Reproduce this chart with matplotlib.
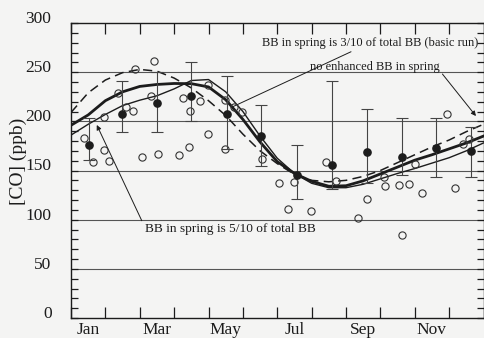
import numpy as np
import matplotlib
matplotlib.use("Agg")
import matplotlib.pyplot as plt
from matplotlib.transforms import ScaledTranslation

plt.rcParams["font.family"] = ["Liberation Serif", "DejaVu Serif"]

# ---- data -------------------------------------------------------------
month_labels = ["Jan", "Mar", "May", "Jul", "Sep", "Nov"]
month_label_pos = [0.5, 2.5, 4.5, 6.5, 8.5, 10.5]

# monthly mean CO with upper / lower ends of the bars (ppb)
mean_x = [0.53, 1.47, 2.50, 3.49, 4.54, 5.54, 6.56, 7.59, 8.61, 9.64, 10.63, 11.64]
mean_y = [176, 207, 219, 226, 207, 185, 145.4, 155.6, 169, 163.4, 173.2, 170]
bar_hi = [203.4, 241.3, 250, 260.7, 246, 216.6, 176, 241, 212.5, 203, 203, 194.6]
bar_lo = [160.7, 188.8, 189.5, 200.3, 171.5, 154.6, 120.7, 130.9, 137, 145, 143.7, 143.7]

# individual observations (ppb)
obs_x = [0.39, 0.63, 0.97, 1.11, 0.97, 1.36, 1.60, 1.80, 1.87, 2.41, 2.34, 2.07,
         2.54, 3.14, 3.26, 3.45, 3.44, 3.74, 3.98, 3.99, 4.48, 4.48, 4.73, 4.98,
         5.55, 6.04, 6.48, 6.31, 6.97, 7.43, 7.70, 8.34, 8.61, 9.13, 9.10, 9.54,
         9.84, 9.64, 10.0, 10.2, 10.95, 11.17, 11.40, 11.59]
obs_y = [182.7, 158.3, 171.0, 160.0, 204.4, 228.8, 214.8, 210.5, 253.2, 261.7, 225.5, 163.7,
         166.6, 165.8, 223.7, 210.7, 174.2, 220.5, 237.3, 186.8, 221.7, 171.4, 214.9, 209.3,
         161.4, 137.6, 138.5, 110.9, 108.8, 159.0, 139.3, 101.4, 121.2, 134.2, 143.4, 135.0,
         136.0, 84.4, 156.9, 127.4, 207.8, 132.5, 177.0, 181.7]

# model curves, sampled every half month
curve_x = np.arange(0, 12.01, 0.5)
basic_run = [196, 206.5, 221, 230, 235.5, 237.5, 238.5, 238.3, 235, 222, 202, 179, 159,
             147, 139, 134, 134.5, 139.5, 146.5, 153.5, 160.5, 166, 172, 178, 185]
spring_5_10 = [186, 197, 207, 216, 221.5, 226, 233, 241.5, 242.5, 230, 210, 185, 162.5,
               147, 137, 132.5, 132.5, 136, 141.5, 147, 152, 157.5, 163, 170, 178]
no_enhanced = [209, 229, 242, 249.5, 252.8, 251, 244, 234, 221, 206, 187, 170, 157,
               146, 140, 138.5, 140, 144, 150, 158, 166, 174, 181, 189.5, 197]

# ---- figure -----------------------------------------------------------
ink = "#1c1c1c"
paper = "#f4f4f3"

fig = plt.figure(figsize=(4.84, 3.38), dpi=100, facecolor=paper)
ax = fig.add_axes([71 / 484, 1 - 318 / 338, (483.5 - 71) / 484, (318 - 23) / 338])
ax.set_facecolor(paper)

ax.set_xlim(0, 12)
ax.set_ylim(0, 300)

# horizontal reference lines
for gy in [50, 100, 150, 200, 250]:
    ax.axhline(gy, color="#555555", lw=0.8, zorder=1)

# model curves
ax.plot(curve_x, no_enhanced, color=ink, lw=1.1, ls=(0, (6, 3.5)), zorder=3)
ax.plot(curve_x, spring_5_10, color=ink, lw=1.0, zorder=3)
ax.plot(curve_x, basic_run, color=ink, lw=2.0, zorder=3)

# observations
ax.plot(obs_x, obs_y, ls="none", marker="o", ms=5.2, mfc="none",
        mec="#333333", mew=0.8, zorder=4)

mean_y_arr = np.array(mean_y)
yerr = [mean_y_arr - np.array(bar_lo), np.array(bar_hi) - mean_y_arr]
ax.errorbar(mean_x, mean_y, yerr=yerr, fmt="o", ms=5.2, color=ink,
            ecolor="#444444", elinewidth=0.8, capsize=4, capthick=0.8, zorder=5)

# annotations
ax.annotate("BB in spring is 3/10 of total BB (basic run)",
            xy=(4.69, 214.6), xytext=(5.55, 279.7), fontsize=9, color=ink,
            ha="left", va="center",
            arrowprops=dict(arrowstyle="-", color=ink, lw=0.7,
                            shrinkA=0, shrinkB=0))
ax.annotate("no enhanced BB in spring",
            xy=(11.78, 205.4), xytext=(6.95, 255.3), fontsize=9, color=ink,
            ha="left", va="center",
            arrowprops=dict(arrowstyle="-|>", color=ink, lw=0.7,
                            mutation_scale=7, shrinkA=0, shrinkB=0,
                            relpos=(1.0, 0.2)))
ax.annotate("BB in spring is 5/10 of total BB",
            xy=(0.75, 196.3), xytext=(2.14, 90.5), fontsize=9.6, color=ink,
            ha="left", va="center",
            arrowprops=dict(arrowstyle="-|>", color=ink, lw=0.7,
                            mutation_scale=7, shrinkA=0, shrinkB=0,
                            relpos=(0.0, 0.7)))

# axes styling
for s in ax.spines.values():
    s.set_color(ink)
    s.set_linewidth(1.0)

ax.set_xticks(np.arange(0, 13, 1))
ax.set_xticklabels([])
ax.set_xticks(month_label_pos, minor=True)
ax.set_xticklabels(month_labels, minor=True)
ax.tick_params(axis="x", which="major", direction="in", length=8, width=0.9,
               top=True, bottom=True, color=ink)
ax.tick_params(axis="x", which="minor", length=0, pad=3, labelsize=12.5,
               labelcolor=ink)

ax.set_yticks(np.arange(0, 301, 50))
ax.set_yticks(np.arange(0, 301, 10), minor=True)
ax.tick_params(axis="y", which="both", direction="in", length=5, width=0.9,
               left=True, right=True, color=ink)
ax.tick_params(axis="y", which="major", pad=14, labelsize=12.5, labelcolor=ink)

# the value labels sit slightly above their tick marks
lift = ScaledTranslation(0, 6 / 100, fig.dpi_scale_trans)
for lab in ax.get_yticklabels():
    lab.set_transform(lab.get_transform() + lift)

ax.set_ylabel("[CO] (ppb)", fontsize=14, color=ink)
ax.yaxis.set_label_coords(-0.107, 0.53)

fig.savefig("out.png", dpi=100, facecolor=paper)
